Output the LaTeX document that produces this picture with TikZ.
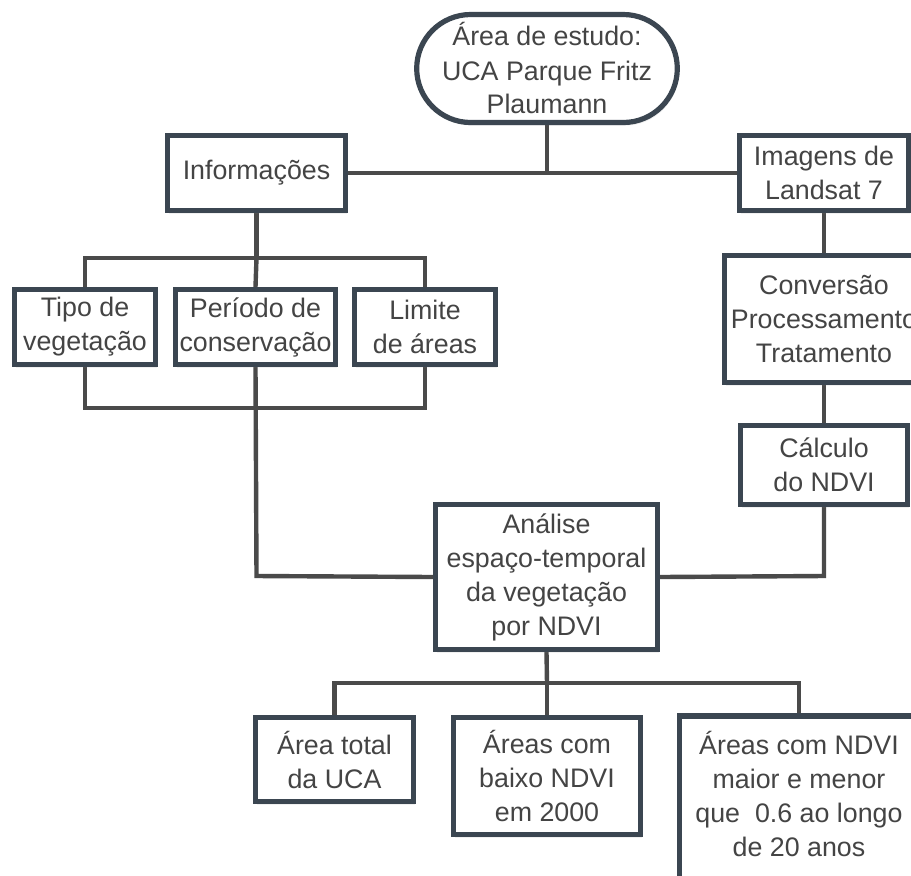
\documentclass[tikz,border=0pt]{standalone}
\usepackage{fontspec}
\setmainfont{Liberation Sans}
\usetikzlibrary{shapes.misc,shadows}
\definecolor{boxc}{HTML}{3B4651}
\definecolor{linec}{HTML}{4A4A4A}
\definecolor{textc}{HTML}{444444}
\pgfdeclarelayer{background}
\pgfsetlayers{background,main}
\tikzset{
  box/.style={draw=boxc, line width=2.6pt, fill=white, rectangle, align=center,
    text=textc, inner sep=0pt, font=\fontsize{13.4}{17}\selectfont,
    drop shadow={opacity=0.12, shadow xshift=0.8pt, shadow yshift=-1.6pt}},
  txt/.style={align=center, text=textc, inner sep=0pt, font=\fontsize{13.4}{17}\selectfont},
  conn/.style={draw=linec, line width=2.2pt},
}
\newcommand{\bx}[5]{% name, cx, cy, w, h (px)
  \node[box, minimum width=#4*0.5pt, minimum height=#5*0.5pt] (#1) at (#2,#3)}
\begin{document}
\begin{tikzpicture}[x=0.5pt,y=-0.5pt]
\useasboundingbox (0,0) rectangle (911,875);
\clip (0,0) rectangle (911,875);
% nodes
\node[box, rounded rectangle, minimum width=257*0.5pt, minimum height=108*0.5pt] (top) at (547,68.5) {Área de estudo:\\UCA Parque Fritz\\Plaumann};
\bx{info}{256.5}{173}{178}{75} {Informações};
\bx{land}{824}{173}{169}{75} {Imagens de\\Landsat 7};
\bx{conv}{824}{319}{199}{127} {Conversão\\Processamento\\Tratamento};
\bx{calc}{824}{465}{167}{79} {Cálculo\\do NDVI};
\bx{tipo}{85}{327}{141}{75} {Tipo de\\vegetação};
\bx{peri}{255.5}{327}{160}{75} {Período de\\conservação};
\bx{limi}{425}{327}{141}{75} {Limite\\de áreas};
\bx{anal}{546.5}{577}{222}{145} {Análise\\espaço-temporal\\da vegetação\\por NDVI};
\bx{tota}{334.5}{759.5}{158}{84} {Área total\\da UCA};
\bx{baix}{547}{776}{187}{117} {Áreas com\\baixo NDVI\\em 2000};
\bx{maio}{799}{816}{239}{200} {};
\node[txt] (maiot) at (799,794) {Áreas com NDVI\\maior e menor\\que \ 0.6 ao longo\\de 20 anos};
% junction coordinates
\coordinate (j1) at (547,172);
\coordinate (j2l) at (85,258);
\coordinate (j2m) at (256.5,258);
\coordinate (j2r) at (425,258);
\coordinate (j3l) at (85,408);
\coordinate (j3m) at (256.5,408);
\coordinate (j3r) at (425,408);
\coordinate (j4l) at (256.5,576);
\coordinate (j4r) at (824,576);
\coordinate (j5l) at (334.5,683);
\coordinate (j5m) at (547,683);
\coordinate (j5r) at (799,683);
\begin{pgfonlayer}{background}
\draw[conn] (info.east) -- (land.west);
\draw[conn] (top.south) -- (j1);
\draw[conn] (land.south) -- (conv.north);
\draw[conn] (conv.south) -- (calc.north);
\draw[conn] (info.south) -- (j2m);
\draw[conn] (tipo.north) -- (j2l) -- (j2r) -- (limi.north);
\draw[conn] (j2m) -- (peri.north);
\draw[conn] (tipo.south) -- (j3l) -- (j3r) -- (limi.south);
\draw[conn] (peri.south) -- (j4l) -- (anal.west);
\draw[conn] (calc.south) -- (j4r) -- (anal.east);
\draw[conn] (anal.south) -- (j5m);
\draw[conn] (tota.north) -- (j5l) -- (j5r) -- (maio.north);
\draw[conn] (j5m) -- (baix.north);
\end{pgfonlayer}
\end{tikzpicture}
\end{document}
